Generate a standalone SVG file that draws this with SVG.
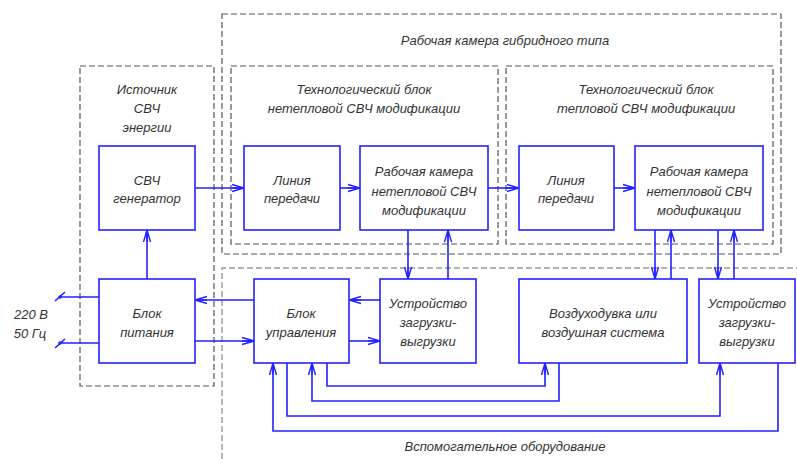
<svg xmlns="http://www.w3.org/2000/svg" width="797" height="459" viewBox="0 0 797 459">
<style>
.dash{fill:none;stroke:#555;stroke-width:1.2;stroke-dasharray:6 3}
.dashl{fill:none;stroke:#999;stroke-width:1.4;stroke-dasharray:6 3}
.box{fill:#fff;stroke:#2222ff;stroke-width:1.6}
.ln{fill:none;stroke:#2222ff;stroke-width:1.6}
text{font-family:"Liberation Sans",Arial,sans-serif;font-style:italic;font-size:13px;fill:#333;text-anchor:middle}
</style>
<defs>
<marker id="ar" markerUnits="userSpaceOnUse" markerWidth="16" markerHeight="10" viewBox="-13 -5 16 10" refX="0" refY="0" orient="auto">
<path d="M-12,-3.5 L0,0 L-12,3.5 M-12,0 H0" fill="none" stroke="#2222ff" stroke-width="1.4"/>
</marker>
</defs>
<g id="frames">
<rect class="dash" x="80" y="66" width="134" height="320"/>
<rect class="dash" x="222" y="14" width="559" height="240"/>
<rect class="dash" x="231" y="66" width="267" height="178"/>
<rect class="dash" x="506" y="66" width="267" height="178"/>
<path class="dashl" d="M222,459 V268 H797"/>
<text x="505" y="45">Рабочая камера гибридного типа</text>
<text x="147" y="94">Источник</text>
<text x="147" y="113">СВЧ</text>
<text x="147" y="132">энергии</text>
<text x="364" y="94">Технологический блок</text>
<text x="364" y="113">нетепловой СВЧ модификации</text>
<text x="646" y="94">Технологический блок</text>
<text x="646" y="113">тепловой СВЧ модификации</text>
<text x="505" y="451">Вспомогательное оборудование</text>
</g>
<g id="connectors">
<path class="ln" marker-end="url(#ar)" d="M195,188 H244"/>
<path class="ln" marker-end="url(#ar)" d="M340,188 H360"/>
<path class="ln" marker-end="url(#ar)" d="M488,188 H519"/>
<path class="ln" marker-end="url(#ar)" d="M614,188 H635"/>
<path class="ln" marker-end="url(#ar)" d="M147,279 V230"/>
<path class="ln" marker-end="url(#ar)" d="M254,300 H195"/>
<path class="ln" marker-end="url(#ar)" d="M195,341 H254"/>
<path class="ln" marker-end="url(#ar)" d="M380,300 H349"/>
<path class="ln" marker-end="url(#ar)" d="M349,341 H380"/>
<path class="ln" marker-end="url(#ar)" d="M408,230 V279"/>
<path class="ln" marker-end="url(#ar)" d="M448,279 V230"/>
<path class="ln" marker-end="url(#ar)" d="M655,230 V279"/>
<path class="ln" marker-end="url(#ar)" d="M671,279 V230"/>
<path class="ln" marker-end="url(#ar)" d="M718,230 V279"/>
<path class="ln" marker-end="url(#ar)" d="M734,279 V230"/>
<path class="ln" marker-end="url(#ar)" d="M327,363 V386 H545 V363"/>
<path class="ln" marker-end="url(#ar)" d="M559,363 V401 H312 V363"/>
<path class="ln" marker-end="url(#ar)" d="M287,363 V416 H720 V363"/>
<path class="ln" marker-end="url(#ar)" d="M778,363 V431 H273 V363"/>
<path class="ln" d="M60,297 H99 M55,301 L65,292 M60,343 H99 M55,348 L65,339"/>
<circle cx="60" cy="297" r="1.8" fill="#2222ff"/>
<circle cx="60" cy="343" r="1.8" fill="#2222ff"/>
<text x="31" y="319">220 В</text>
<text x="30" y="338">50 Гц</text>
</g>
<g id="gen"><rect class="box" x="99" y="146" width="96" height="84"/><text x="147" y="185">СВЧ</text><text x="147" y="203">генератор</text></g>
<g id="line1"><rect class="box" x="244" y="146" width="96" height="84"/><text x="292" y="185">Линия</text><text x="292" y="203">передачи</text></g>
<g id="rk1"><rect class="box" x="360" y="146" width="128" height="84"/><text x="424" y="176">Рабочая камера</text><text x="424" y="196">нетепловой СВЧ</text><text x="424" y="215">модификации</text></g>
<g id="line2"><rect class="box" x="519" y="146" width="95" height="84"/><text x="566" y="185">Линия</text><text x="566" y="203">передачи</text></g>
<g id="rk2"><rect class="box" x="635" y="146" width="128" height="84"/><text x="699" y="176">Рабочая камера</text><text x="699" y="196">нетепловой СВЧ</text><text x="699" y="215">модификации</text></g>
<g id="pit"><rect class="box" x="99" y="279" width="96" height="84"/><text x="147" y="318">Блок</text><text x="147" y="337">питания</text></g>
<g id="upr"><rect class="box" x="254" y="279" width="95" height="84"/><text x="301" y="318">Блок</text><text x="301" y="337">управления</text></g>
<g id="ust1"><rect class="box" x="380" y="279" width="96" height="84"/><text x="428" y="308">Устройство</text><text x="428" y="327">загрузки-</text><text x="428" y="346">выгрузки</text></g>
<g id="vozd"><rect class="box" x="519" y="279" width="168" height="84"/><text x="603" y="318">Воздуходувка или</text><text x="603" y="337">воздушная система</text></g>
<g id="ust2"><rect class="box" x="699" y="279" width="96" height="84"/><text x="747" y="308">Устройство</text><text x="747" y="327">загрузки-</text><text x="747" y="346">выгрузки</text></g>
</svg>
